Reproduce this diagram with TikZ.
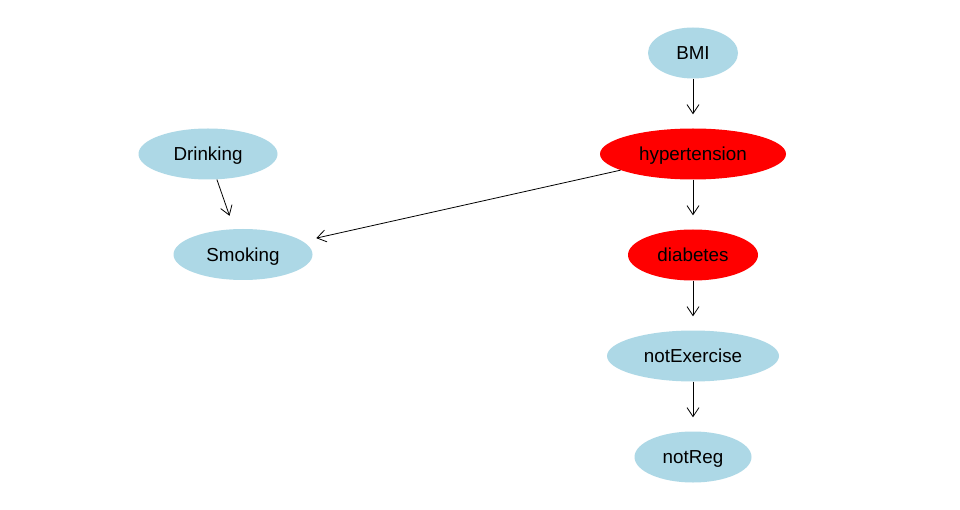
\documentclass[tikz,border=0pt]{standalone}
\usepackage{fontspec}
\setmainfont{Liberation Sans}
\usetikzlibrary{shapes.geometric,arrows.meta}
\definecolor{nodeblue}{RGB}{173,216,230}
\definecolor{nodered}{RGB}{255,0,0}
\begin{document}
\begin{tikzpicture}[x=1pt,y=-1pt,
  vnode/.style={ellipse,inner sep=0pt,minimum height=51pt,text height=13.5pt,text depth=0pt,font=\fontsize{18.8}{22}\selectfont,text=black},
  bluen/.style={vnode,fill=nodeblue},
  redn/.style={vnode,fill=nodered},
  edgearrow/.style={-{Straight Barb[length=9pt,width=12pt]},line width=0.8pt,shorten >=14pt,black}]
\useasboundingbox[fill=white] (0,0) rectangle (960,510);
\node[bluen,minimum width=90pt] (bmi) at (693,53) {BMI};
\node[redn,minimum width=186pt] (hyp) at (693,154) {hypertension};
\node[bluen,minimum width=139pt] (drink) at (208,154) {Drinking};
\node[bluen,minimum width=139pt] (smoke) at (243,254.5) {Smoking};
\node[redn,minimum width=130pt] (diab) at (693,255) {diabetes};
\node[bluen,minimum width=172pt] (notex) at (693,356) {notExercise};
\node[bluen,minimum width=117pt] (notreg) at (693,457) {notReg};
\draw[edgearrow] (bmi) -- (hyp);
\draw[edgearrow] (hyp) -- (diab);
\draw[edgearrow] (diab) -- (notex);
\draw[edgearrow] (notex) -- (notreg);
\draw[edgearrow] (drink) -- (smoke);
\draw[edgearrow] (hyp) -- (smoke);
\end{tikzpicture}
\end{document}
